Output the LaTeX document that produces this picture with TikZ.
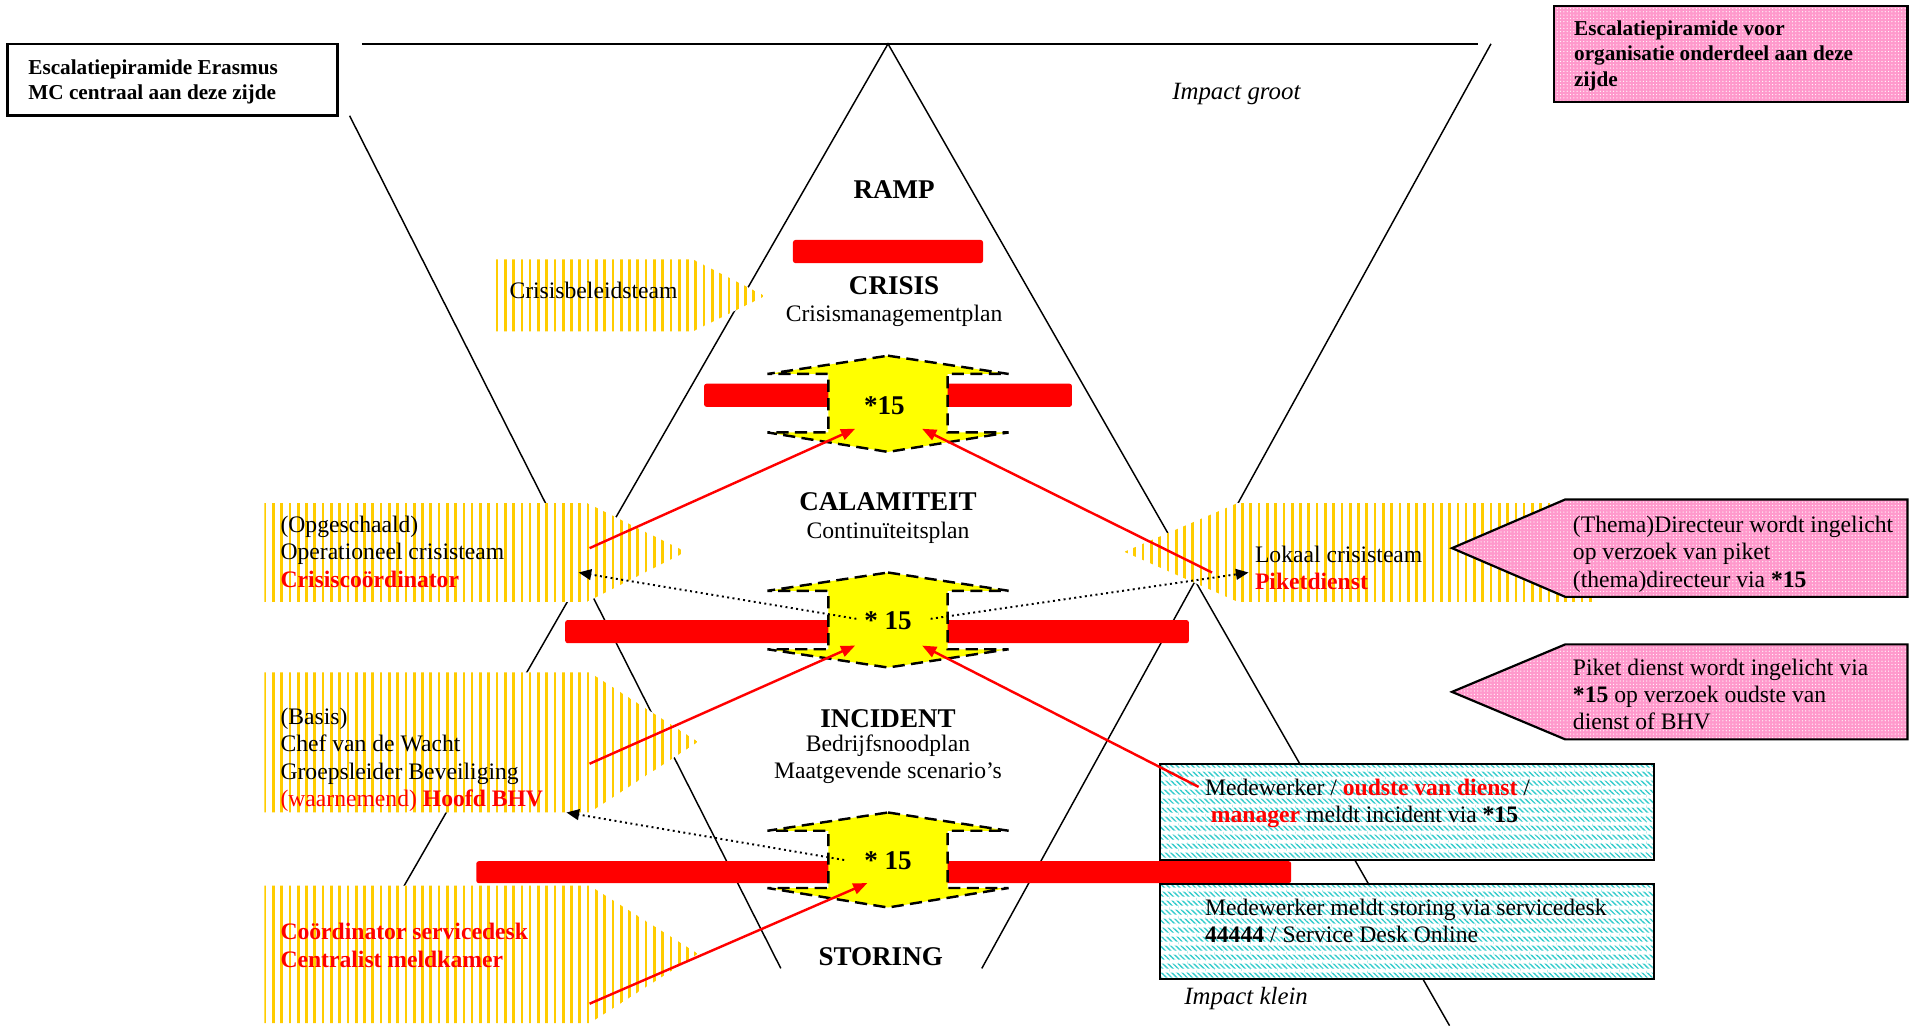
\documentclass[tikz,border=0pt]{standalone}
\usepackage{fontspec}
\setmainfont{Liberation Serif}
\usetikzlibrary{arrows.meta,patterns.meta}

\definecolor{geel}{RGB}{255,204,0}
\definecolor{pijlgeel}{RGB}{255,255,0}
\definecolor{rozebg}{RGB}{255,153,204}
\definecolor{cyaanlijn}{RGB}{51,204,204}
\definecolor{rood}{RGB}{255,0,0}

\newcommand{\lvlfont}{\fontsize{15.8}{19}\selectfont\bfseries}
\newcommand{\txtfont}{\fontsize{13.8}{15.9}\selectfont}
\newcommand{\kopfont}{\fontsize{12.4}{14.9}\selectfont\bfseries}
\newcommand{\rd}[1]{\textcolor{rood}{#1}}

\tikzset{
  piramide/.style={line width=0.3mm},
  balk/.style={fill=rood, rounded corners=0.5mm},
  teamvlak/.style={preaction={fill=white},
    pattern={Lines[angle=90,distance=1.7mm,line width=0.55mm]}, pattern color=geel},
  pijl15/.style={fill=pijlgeel, draw=black, line width=0.5mm,
    dash pattern=on 2.5mm off 1.3mm},
  rozevlak/.style={preaction={fill=rozebg},
    preaction={pattern={Dots[distance=0.68mm,radius=0.13mm]}, pattern color=white},
    draw=black, line width=0.45mm},
  cyaanvlak/.style={preaction={fill=white},
    preaction={pattern={Lines[angle=-45,distance=0.75mm,line width=0.28mm]}, pattern color=cyaanlijn},
    preaction={pattern={Lines[angle=0,distance=1.9mm,line width=0.9mm]}, pattern color=white},
    draw=black, line width=0.4mm},
  kader/.style={fill=white, draw=black, line width=0.55mm},
  niveau/.style={font=\lvlfont, inner sep=0pt, anchor=base},
  plan/.style={font=\txtfont, inner sep=0pt, anchor=base},
  tekst/.style={font=\txtfont, inner sep=0pt, align=left, anchor=base west},
  kop/.style={font=\kopfont, inner sep=0pt, align=left, anchor=base west},
  meld/.style={draw=rood, line width=0.5mm, -{Triangle[length=2.9mm,width=2.3mm]}},
  info/.style={draw=black, line width=0.4mm, dotted, -{Triangle[length=2.6mm,width=2.2mm]}}
}

\begin{document}
\begin{tikzpicture}[x=0.25mm, y=-0.25mm]
\useasboundingbox (0,0) rectangle (1568,842);

% lijnen van de twee piramides
\draw[piramide] (297,36) -- (1213,36);
\draw[piramide] (287,95) -- (641,795);
\draw[piramide] (1224,36) -- (806,795);
\draw[piramide] (329,732) -- (729,36) -- (1190,842);

% rode balken tussen de niveaus
\fill[balk] (651,197) rectangle (807,216);
\fill[balk] (578,315) rectangle (880,334);
\fill[balk] (464,509) rectangle (976,528);
\fill[balk] (391,707) rectangle (1060,725);

% gele teams
\path[teamvlak] (407,213) -- (569,213) -- (628,243) -- (569,272) -- (407,272) -- cycle;
\path[teamvlak] (217,413) -- (482,413) -- (563,453) -- (482,494) -- (217,494) -- cycle;
\path[teamvlak] (217,552) -- (484,552) -- (573,609) -- (484,667) -- (217,667) -- cycle;
\path[teamvlak] (217,727) -- (484,727) -- (573,783) -- (484,840) -- (217,840) -- cycle;
\path[teamvlak] (1307,413) -- (1016,413) -- (923,453) -- (1016,494) -- (1307,494) -- cycle;

% *15 pijlen
\path[pijl15] (729,292) -- (828,307) -- (778,307) -- (778,355) -- (828,355)
  -- (729,371) -- (630,355) -- (680,355) -- (680,307) -- (630,307) -- cycle;
\path[pijl15] (729,470) -- (828,485) -- (778,485) -- (778,533) -- (828,533)
  -- (729,548) -- (630,533) -- (680,533) -- (680,485) -- (630,485) -- cycle;
\path[pijl15] (729,667) -- (828,682) -- (778,682) -- (778,729) -- (828,729)
  -- (729,745) -- (630,729) -- (680,729) -- (680,682) -- (630,682) -- cycle;
\node[niveau] (n15a) at (726,340) {*15};
\node[niveau] (n15b) at (729,517) {* 15};
\node[niveau] (n15c) at (729,714) {* 15};

% kaders
\path[kader] (6,36) rectangle (277,95);
\node[kop] (erasmus) at (23,82) {Escalatiepiramide Erasmus\\MC centraal aan deze zijde};
\path[rozevlak] (1276,5) rectangle (1566,84);
\node[kop] (onderdeel) at (1292,71) {Escalatiepiramide voor\\organisatie onderdeel aan deze\\zijde};
\path[rozevlak] (1192,450) -- (1285,410) -- (1566,410) -- (1566,490) -- (1285,490) -- cycle;
\node[tekst] (directeur) at (1291,482) {(Thema)Directeur wordt ingelicht\\op verzoek van piket\\(thema)directeur via \textbf{*15}};
\path[rozevlak] (1192,568) -- (1285,529) -- (1566,529) -- (1566,607) -- (1285,607) -- cycle;
\node[tekst] (piket) at (1291,599) {Piket dienst wordt ingelicht via\\\textbf{*15} op verzoek oudste van\\dienst of BHV};
\path[cyaanvlak] (952,627) rectangle (1358,706);
\node[tekst] (incident) at (989,675) {Medewerker / \rd{\textbf{oudste van dienst}} /\\\hspace{0.25em}\rd{\textbf{manager}} meldt incident via \textbf{*15}};
\path[cyaanvlak] (952,726) rectangle (1358,804);
\node[tekst] (storing) at (989,774) {Medewerker meldt storing via servicedesk\\\textbf{44444} / Service Desk Online};

% niveaus
\node[niveau] (ramp) at (734,163) {RAMP};
\node[niveau] (crisis) at (734,242) {CRISIS};
\node[plan] (crisisplan) at (734,264) {Crisismanagementplan};
\node[niveau] (calamiteit) at (729,419) {CALAMITEIT};
\node[plan] (calplan) at (729,442) {Continuïteitsplan};
\node[niveau] (incidentlvl) at (729,597) {INCIDENT};
\node[plan] (incplan) at (729,617) {Bedrijfsnoodplan};
\node[plan] (scenario) at (729,639) {Maatgevende scenario’s};
\node[niveau] (storinglvl) at (723,793) {STORING};
\node[plan, font=\fontsize{14.5}{16}\selectfont\itshape] (groot) at (1015,82) {Impact groot};
\node[plan, font=\fontsize{14.5}{16}\selectfont\itshape] (klein) at (1023,825) {Impact klein};

% teksten in de teams
\node[tekst] (cbt) at (418,245) {Crisisbeleidsteam};
\node[tekst] (oct) at (230,482) {(Opgeschaald)\\Operationeel crisisteam\\\rd{\textbf{Crisiscoördinator}}};
\node[tekst] (basis) at (230,662) {(Basis)\\Chef van de Wacht\\Groepsleider Beveiliging\\\rd{(waarnemend) \textbf{Hoofd BHV}}};
\node[tekst] (servicedesk) at (230,794) {\rd{\textbf{Coördinator servicedesk}}\\\rd{\textbf{Centralist meldkamer}}};
\node[tekst] (lct) at (1030,484) {Lokaal crisisteam\\\rd{\textbf{Piketdienst}}};

% eindpunten van de pijlen
\coordinate (uitOCT) at (484,450);
\coordinate (inA1) at (702,352);
\coordinate (uitLCT) at (995,470);
\coordinate (inA2) at (757,352);
\coordinate (uitBasis) at (484,627);
\coordinate (inB1) at (702,530);
\coordinate (uitMW) at (984,646);
\coordinate (inB2) at (757,530);
\coordinate (uitSD) at (484,824);
\coordinate (inC1) at (712,725);
\coordinate (vanB1) at (703,508);
\coordinate (naarOCT) at (475,470);
\coordinate (vanB2) at (764,508);
\coordinate (naarLCT) at (1025,470);
\coordinate (vanC1) at (693,706);
\coordinate (naarBasis) at (465,667);

\draw[meld] (uitOCT) -- (inA1);
\draw[meld] (uitLCT) -- (inA2);
\draw[meld] (uitBasis) -- (inB1);
\draw[meld] (uitMW) -- (inB2);
\draw[meld] (uitSD) -- (inC1);
\draw[info] (vanB1) -- (naarOCT);
\draw[info] (vanB2) -- (naarLCT);
\draw[info] (vanC1) -- (naarBasis);
\end{tikzpicture}
\end{document}
